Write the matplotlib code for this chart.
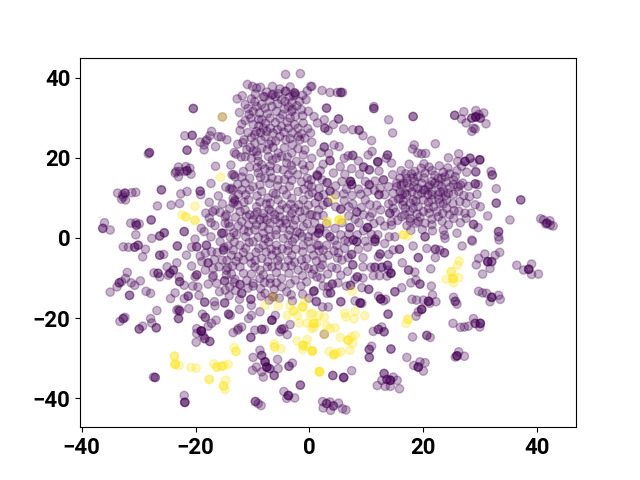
import numpy as np
import matplotlib
matplotlib.use("Agg")
import matplotlib.pyplot as plt

purple_nw = [(-4.2,40.8),(-1.6,41),(-10.9,38.3),(-10,37.8),(-9.3,37.4),(-8.6,37.6),(-6.5,37.8),(-3.4,37.7),(0.2,37.8),(-0.4,36.7),(-5.2,37.2),(-4.2,36.6,2),(-2.6,36.2,2),(-2.8,35.5),(-6.6,35.7),(-6,35.3),(-7.9,35.2),(-20.4,32.3,2),(-15.3,30.2),
(-33.7,11.2),(-32.8,10.8),(-32.4,11.2,2),(-33,9.7),(-32.3,9.5),(-31.2,11.3),(-30.5,11.4),(-32.7,10.2),(-26,12,2),(-26.7,8),(-24.3,8.2),(-22.8,8.6),(-22.6,11),(-21.5,11.6),(-19.2,11.7,2),(-19.1,10.8),(-17.3,13.6),(-16.5,17.9),
(-23.4,16.6),(-23,17.7),(-21.7,17.8),(-21,17.4),(-21.5,16.8,2),(-20.8,15.9),(-23,15.3),(-23.6,16.2),(-22.8,16.6),(-21.9,16.6),(-28.1,21.3,2),(-28.3,21),(-21.5,21.9,2),(-21.9,25.5),(-20.6,25.6,2),
(-19.2,23.9),(-18.2,24.2),(-18.5,23.2),(-18.5,22),(-17.5,25.5),(-17.2,26.6),(-16.5,22.8),(-16,25.3),(-15.5,25.2),(-14.5,24.5),(-18,24.5),(-13.2,21.3),(-12.9,20.9),(-13.8,18.2),(-13.6,15.8),(-13.1,15.3),
(-14.7,12.7),(-14,12.2),(-13.5,12),(-16,10.5),(-17.6,8.9),(-15.3,8.5),(-13.4,9.9),(-13.1,9.1),(-16.6,7),(-17,6.6),(-18.2,6.2),(-14.6,5.8),(-14.8,5.3),(-17.3,3.8),(-16.6,3.1),(-19,2.4),(-18.5,1.6),(-17.3,0.3),(-15.4,1.2,2),(-14.2,3.7),(-14.8,3.7),(-22,1.6,2),(-20.1,-0.3),
(-36,3.8),(-36.3,2.4,2),(-35,2),(-31.4,3.7),(-30.5,3.8),(-30.4,3.2,2),(-29.9,3.5),(-30.5,0.8),(-27.8,4.5,2),(-27.7,-0.1),(-26.3,0.5,2),(-25.5,1.3,2)]

purple_center = [(-12.7,34.7),(-11.3,33.3),(-10.2,34.7),(-12.3,31.3),(-9.9,31.6),(-8.4,33.3),(-10.6,30.8),(-11.3,29.3),(-8.8,31.2),(-7.8,32.4),(-6.4,35.8),(-4.9,34.5),(-3.7,32.8),(-2.5,35.8),(-0.6,34.5),(-1.4,32),(-3.4,29.9),(-2.5,30.3),(-5.8,31.6),(-6.9,29.9),(-8.1,27.4),(-9.9,28.3),(-12.2,26.8),(-10.8,26.3),(-9.3,26.6),(-11.5,24.5),(-11.7,23.8),(-9.6,23.7),(-7.8,25.3),(-6.4,26.2),(-4.9,27.8),(-3.7,27.4),(-5.2,25.3),(-4.2,24.5),(-2,27.4),(-1.1,28.7),(0.2,26.2),(0.8,30.3),(1.4,28.7),(-1.7,24.5),(-2.96,23.3),(-8.4,22.4),(-11,22),(-11.3,20.3),(-10.2,19.9),(-5.5,21.2),(-7.2,20.3),(-3.1,21.2),(-2.3,19.1),(-0.8,22),(0.4,19.9),(-4,18.7),(-6.9,18),(-9,19.1),(-10.5,17.7),(-8.4,18.3),(0,18),(-5.8,19.9),(-9.9,21.6),(-9.6,25.8),(-6.7,24.1),(-8.4,29.5),(-6.9,27.4),(-3.1,31.6),(-4.3,34.1),(-8.1,35.3),(-1.7,34.1),(-2,25.3),(-5.2,29.9),
(-13.3,15.8),(-13.7,12.4),(-11.3,13.7),(-10.5,14.9),(-9.9,12.8),(-7.8,14.9),(-9,16.2),(-6.9,16.6),(-5.5,14.5),(-3.7,15.8),(-2.1,15.8),(-0.4,14.9),(1.3,15.8),(-4.6,12),(-6.4,11.2),(-8.4,11.6),(-10.5,12),(-11.9,12),(-10.7,9.5),(-13.1,9.5),(-13.4,8.7),(-12.2,6.6),(-9.3,7.8),(-6.9,8.7),(-5.5,9.5),(-3.1,9.9),(-2,11.6),(-0.2,13.3),(-1.1,9.5),(1.6,10.3),(-4,7.4),(-1.7,6.6),(0.1,5.8),(-10.5,5.8),(-8.1,6.2),(-6.1,5.8),(-4.3,4.5),(-2.5,4.5),(-6.9,3.7),(-9.3,3.3),(-11.9,4.1),(-14,2.8),(-10.7,1.6),(-8.1,1.2),(-5.8,2),(-3.4,2),(-1.1,2.8),(1.8,2),(-15.1,1.2),(-12.8,0.8),(-6.9,0.3),(-4.6,-0.1),(-2.6,-0.1),(-0.2,0.3),(-12.2,-1.8),(-9.9,-0.9),(-8.1,-1.8),(-5.8,-1.8),(-3.7,-1.8),(-1.1,-1.8),(1.3,-1.8),(-14.3,-2),(-11.2,-2.6),(-7.5,4.5),(-5.2,3.7),(-8.7,4.5),(-3.1,6.2),(-6.7,6.6),(-9.9,4.5),(-11.3,7),(-1.7,1.2),
(-15.3,-5.5),(-13.7,-4.3),(-12.5,-4.7),(-10.5,-4.7),(-8.4,-5.1),(-6.6,-4.3),(-5.2,-4.7),(-3.1,-4.3),(-1.4,-5.5),(0.7,-4.3),(-14.6,-8),(-12.2,-7.2),(-10.2,-6.3),(-11.6,-8.8),(-8.7,-8),(-6.6,-7.2),(-4.3,-7.2),(-2,-8),(-0.2,-7.6),(1.3,-9.7),(-4.9,-10.1),(-6.9,-10.1),(-8.7,-10.1),(-4.9,-12.2),(-9.9,-11.3),(-6.9,-11.3),(-0.5,-10.9),(-2.5,-10.5),(-4,-13.4),(0.7,-13.4),(-7.8,-13.8),(1.2,-15.9)]

purple_fill = [(-11.8,35.5),(-9.5,35.9),(-7.5,36.4),(-5.5,36),(-3.5,35.2),(-1.2,35.6),(-9.6,34),(-7,34.3),(-5.6,33.5),(-3.1,33.8),(-2.2,33),(-4.4,32.2),(-3,32.1),(-6.6,32.8),(-9.3,32.8),(-10.8,32.3),(-7.4,31),(-4.7,30.8),(-1.2,30.5),(-0.2,31.6),(-8.9,29.6),(-7.7,28.6),(-6,28.8),(-3.9,28.9),(-2.6,28.3),(-10.3,29.9),(-11.9,28.4),(-8.9,27.9),(-7.5,26.6),(-8.6,26.3),(-5.6,27),(-4.5,26.4),(-3,26.2),(-1.4,26),(-0.3,27.3),(-10.2,25),(-8.5,24.4),(-7.1,23.4),(-5.9,24.2),(-3.4,24.8),(-0.8,24.9),(-12.6,23.4),(-10.4,22.6),(-9.3,21.6),(-7.4,22),(-6.4,22.6),(-4.4,22.5),(-3.9,20.2),(-2,22.3),(-1.1,20.7),(-12,20.2),(-9.1,20.5),(-6.5,19.4),(-4.9,20.4),(-3.2,18.1),(-1.2,18.3),(-7.8,17.2),(-5.7,17.3),(-4.6,17),(-0.9,17),(-11.6,16.6),(-9.2,17.6),(-3,16.9),
(-11.9,15.2),(-8.6,15.2),(-6.6,15),(-4.4,14.6),(-3.1,14.4),(-1.4,14),(0.3,14.5),(-12.6,13.4),(-8.7,13.2),(-7,13.6),(-5.6,13),(-3.5,12.9),(-1,12.2),(0.5,11.3),(-12.5,10.9),(-11.2,10.8),(-9.2,10.5),(-7.3,10),(-5.9,10.9),(-4,10.8),(-0.1,10.8),(-12.6,8.2),(-11.5,8.9),(-8.7,9),(-7.6,8.5),(-4.8,8.3),(-3.3,8.4),(-1.9,8.3),(-0.2,8.2),(1,8.7),(-14,7.3),(-9.2,6.5),(-7.1,7.1),(-5.2,7),(-2.6,7.4),(-0.8,6.9),(1.3,5.5),(-13,5.2),(-11.1,5.4),(-9.6,5.7),(-8,5),(-5.2,5.3),(-3.4,5.3),(-1.3,5),(-12.5,3),(-10.7,3.2),(-8.2,2.9),(-6,4.6),(-4.1,3.6),(-2.8,3.2),(-0.4,3.6),(0.9,3.9),(-13.3,1.3),(-11.5,2),(-9.6,2),(-7.2,2.2),(-4.7,2.5),(-2.2,1.5),(0.4,1.8),(-13.9,0.2),(-11.2,0.3),(-9,0.2),(-7.8,-0.2),(-5.9,0.8),(-3.7,0.7),(-1.3,0.4),(1,0.4),
(-13.2,-1),(-10.6,-1.1),(-8.9,-2.6),(-7.2,-1),(-6.7,-2.8),(-4.8,-2.7),(-3,-0.9),(-2.4,-2.8),(-0.2,-0.9),(0.3,-2.7),(-13.4,-3),(-11.6,-3.6),(-9.4,-3.6),(-7.6,-3.5),(-5.8,-3.3),(-3.8,-3.2),(-1.2,-3.4),(1.7,-3.2),(-14.5,-5.6),(-12.9,-5.8),(-11.6,-5.5),(-9.5,-5.6),(-7.3,-5.9),(-5.6,-5.6),(-3.7,-5.6),(-2.6,-6),(-0.5,-5.2),(1.2,-5.7),(-13.5,-7),(-9.6,-7.2),(-7.4,-7.2),(-5.4,-6.9),(-3.2,-6.9),(-0.9,-7),(-13.7,-9),(-10.2,-9),(-8.1,-9.2),(-5.8,-8.6),(-3.6,-8.8),(-1.2,-9.4),(0.5,-9),(-13.1,-10.3),(-11,-10.6),(-7.9,-11.1),(-5.8,-11.2),(-3.4,-11.4),(-1.5,-12),(-10.8,-12.5),(-8.6,-12.6),(-6.2,-12.8),(-3.2,-14.2),(-1.2,-14),(-5.3,-15),(-7.1,-15.5),(-3,-15.7),
(2,21.3),(3.4,21.1),(6.1,19.9),(8.6,19.2),(11,21.6),(2.2,14.5),(4.6,13),(8.8,15.9),(11.5,14.2),(12.2,16.7),(2.5,10.8),(4.6,10.8),(6,11),(9,10.9),(11.4,11.9),(13.2,10.8),(2.4,8.2),(4.6,7.8),(6.9,7.8),(9.1,7.6),(10.6,8.3),(12.5,7),(2.4,5.6),(6.9,5.5),(8.7,3.8),(11.3,3.6),(13.2,3),(3,3.5),(5.7,3.8),(3,1.1),(6.9,1),(8.4,0.8),(10.9,0.9),(4.4,-0.6),(6.2,-0.6),(9.8,-0.8),(13.2,-1.4),(15,0.3),(14.7,-3),(2.4,-3),(4.3,-3.2),(8.6,-2.8),(1.9,-7.4),(4.9,-5),(4.8,-7.6),(6.8,-4.9),(9.4,-7.2),(6.7,-8.3),(2,-10),(5,-11.2),(9.4,-10),(-0.1,-15),
(-17.6,5),(-15.7,6.4),(-15,-2.4),(-16.2,-3.6),(-16.7,-5.4),(-15.9,-7.2),(-14.4,-7.4),(-17,-9.8),(-14.6,-9.2),(-13.2,-11.1),(-13,-13.1),(-14.8,-13)]

purple_ne = [(0.4,37.8),(2.2,36.8),(3.6,36.3),(4.9,36.3),(5.5,36.3,2),(5.8,36.3),(3,32.4,2),(11.3,32.8),(11.3,32.3,2),(18.2,30.3,2),(13.9,29.5),(14.6,26.2),(2.6,29.5),(5.1,29.7,2),(4.2,28.3),(2.7,27.4,2),(3.3,26.8),(6,27.2),(7.6,27),(8.7,26.9,2),(9.4,25.5),(10.9,24.3),(0.4,23.9),(2.6,22.7,2),(4.3,23.2),(5.2,22.8),
(25.5,30.6,2),(27.1,31.5),(26.7,29.7),(27.5,28.7),(29.2,31.8),(30.6,31.2),(31,28.5),(28.5,29.9,2),(29.2,30.2,3),(30,29.9,2),(28.8,27.4),(28.5,26.6),(29.1,27.2),(29.7,30.8),
(22.1,23.5),(18.4,23.2),(18.1,22.2),(19,21.2),(19.7,21),(20.4,21.1),(10.3,20.7),(6.8,20.5),(7.6,20.6,2),(13.7,20.7,2),(13.5,19.9),(12,19,3),(14.4,18.7),(3.6,19.3,2),(2.4,18.4),(5.4,17.8),(7.4,17.3),(9.5,17.7,2),(10.5,17,2),(1.9,16.8),(4.2,16.2),(1.4,15.5,2),(6.2,15.9),(3.1,13.8,2),(5.7,14.1),(7.2,14.1,3),(7.4,13.3,2),(9.8,14.1),(10.5,13.3,2),(8.6,12.2),(6.5,12.2),(3.6,11.7,2),(1.7,12.4),(0.4,12.8),(10.2,11.6),(7.5,10.6),(1.6,10.3),(12.2,10.8,2),(13,14.5,2),(14.6,15.8),
(6.1,9.3),(7.6,8.5),(9.8,9.5),(3.2,8.9,2),(5.5,7.2,2),(8.3,6.5,2),(9.5,5.8),(11,6.2),(10.6,5.3),(11.8,8.2),(13.9,8.5),(14.1,6.2,2),(12.4,4.3),(8,4.7),(7.1,2.6,2),(4.5,2.4),(1.8,2.4,2),(0.4,5.8),(1.6,7),(10.2,2.6,3),(9.5,1.8),(12,0.8),(5.5,0.8),(3.6,0.3,2),(1.6,1.2,2),(7.7,-0.5,2),(11.5,-0.3,2),(14,0.3),(14.4,3.2),
(17.5,18.4),(20.1,18.5),(24.4,20),(26.2,21),(26,19.1),(27.3,19.1,3),(28.2,19.9,2),(29.9,19.5,3),(28.8,18.7),(22.8,18),(24.3,17.5),(21.5,16.8),(25.9,16.8),(27.6,16.4),(29.2,16.5,2),(31.9,16.6),(32.1,15.7,2),(16.1,16.8),(18.5,16.6),(20.3,16.2),(15.9,14.9),(17.1,14.9),(19,15.3),(23.8,15.3),(25.6,15.3),(22.6,14.9),(21.5,14.1),(15.3,13.7),(16.5,13.7),(18.3,12.8),(19.7,13.7),(20.3,12),(23.2,12.8),(25.3,13.3),(26.9,13.7),(29.1,13.5,2),(29.6,13.3),(32.8,12.3),(13.9,12.8),(12.4,12.4),(17.1,10.8),(15.9,11.6),(19,10.8),(21.5,11.6),(22.6,10.8),(24.4,11.2),(26.2,11.6),(29.4,10.9),(15.6,9.7),(17.7,8.7),(20,9.5),(21.5,9.5),(24.1,9.5),(26.4,9.1),(28.1,10.3),(29.1,8.3),(30,7.8),(32.8,8.7,2),(37.1,9.5,2),(14.7,7.4),(16.8,7.4),(19.1,7.8),(22.4,6.6),(24.1,7.4),(25.4,6.8),(27.3,6.2),(16.2,5.3),(17.7,4.9),(20,6.6),(22.6,5.3),(25.3,4.9),(31.3,5.5),(35.2,4.5),(18.7,3.7),(20.3,3.7),(21.5,3.3),(24.4,3.3),(26.5,3.8),(28.8,3.4,2),(29.6,2.6),(17.1,3.1),(23.5,2),(25.9,1.2),(33.2,1.6,2),(33.2,0.3),(20.3,0.3,2),(23.7,0.7),(23.8,-0.1),(28.5,-0.5),
(40.6,4.8),(41.1,4.5),(41.7,3.7,2),(42.2,4.3),(42.3,3.2),(41.5,3.5),(42.8,3)]

purple_cluster = [(18.2,9.5),(16.8,11.2),(20.9,12.8),(22,13.7),(21.5,10.8),(19.7,11.2),(18.5,14.1),(17.1,13.7),(23.2,14.9),(15.3,12.8),(22.9,8.7),(21.8,7.8),(20,12),(14.7,11.2),(16.5,9.1),(18.2,7.4),(23.5,11.6),(25.3,14.5),(26.5,13.2),(14.6,9.1),(15.9,9.9),(20.9,7.4),(17.7,4.1),(19.1,4.1),(14.4,4.1),
(16.9,16),(19.6,17.4),(21,17.7),(23.5,16.4),(26.7,17.9),(17.9,16),(24.6,16),(22,15.6),(20.1,15),(18.2,15),(16.1,13.2),(17.5,12.6),(19,12.4),(21.1,13.2),(22.6,13.3),(24,13.9),(24.7,12.6),(26.1,12.8),(27.9,12.9),(16.3,10.9),(18,11.5),(20.8,10.8),(23,11.4),(23.9,10.6),(25.3,10.9),(27.1,10.6),(16.4,8.2),(18.7,9.2),(20.9,8.9),(22.7,9.7),(23.5,8.5),(25.2,8.6),(27.5,8.7),(15.1,6.4),(17.6,6.5),(18.9,6),(21,6.2),(23.4,6.2),(24.6,5.8),(26.2,6.7),(28.4,6.2),(15.5,4.4),(16.7,5.8),(19.4,5.2),(21.5,4.7),(23.3,4.2),(27.5,4.9),(19.8,2.1),(21.6,1.8),(17.8,1.9)]

purple_sw = [(-32.7,-2.2),(-31.8,-2.3),(-30.7,-2.3,2),(-30.1,-1.8,2),(-28.8,-2.8),(-29.3,-4.7),(-26.3,-4.3,2),(-25.6,-4.1),(-23.2,-2,2),(-21.6,-4.3),(-20.7,-7),
(-32,-8.6),(-32.3,-10.1),(-33.4,-11.2,2),(-33.8,-12.2),(-33,-10.9),(-31.3,-11.2),(-30.7,-11.8),(-29.7,-10.7),(-35,-13.5),(-31.6,-14.3,2),(-28.7,-13.3),(-27.9,-13.8),(-26.8,-18.1),(-27.9,-20.1),(-27.7,-21.2),(-32.7,-20.1,2),(-32.4,-19.8),(-33.3,-20.8),(-29.9,-22.7,2),(-29.3,-22),(-26.9,-22.4,2),
(-26.6,-8.8,2),(-27.3,-8.7),(-26.3,-9.7),(-25,-7.2),(-24.8,-9.3),(-23.9,-8,2),(-24.5,-8.8,2),(-23.3,-6.2),(-22.9,-9.7),(-22.8,-10.9,2),(-22,-11.8),(-19.8,-9.2,2),(-20.5,-12),(-19.6,-12.2),(-19.4,-14.3),(-23.6,-13.7),(-24.4,-15.1),(-22,-15.1),(-21.3,-14.5,2),(-18.4,-16,2),(-23,-17.8),(-23.3,-18),(-21.2,-17.6),(-23,-20.1,2),(-22.8,-18.2,2),
(-18.8,-19),(-18.3,-19.8,2),(-16.4,-20.5),(-17.2,-21.3),(-17.8,-22),(-19.8,-22.6),(-19,-23.2,4),(-19.8,-23.8),(-18.4,-25.1,2),(-17.5,-25.8,2),(-19.9,-26),(-18.7,-24.3),
(-14.2,-19,2),(-13.9,-19.3),(-16.7,-15.9),(-16.6,-16.9),(-14.9,-16.2,2),(-12.3,-17.8),(-16.9,-9.4),(-17.8,-11.5),(-16.3,-11.3),(-14.9,-10.7,2),(-15.8,-13.4),(-14.1,-14.4),(-14,-12.2),(-12.2,-11.6,2),(-11.9,-13.8,2),(-12.3,-15.3),(-10.3,-15.3,2),(-10.2,-16.8),(-9.9,-12),(-8.5,-14.5),(-8.7,-18.4),(-10.2,-19.3),(-10.7,-20.1),(-11.9,-22.2),(-12.5,-22.6),(-13.4,-23.6),(-12.6,-23),(-10.3,-24.8,2),(-9.6,-23),(-8.4,-22.8,2),(-7.9,-22.8),(-6.6,-20.5,3),(-6,-19.3),(-6.4,-14.7,2),(-4.9,-22.8,2),(-4.5,-22.6),(-3.4,-21.6),(-3.9,-24.1),(-5.2,-23.4),
(-9.9,-29.8),(-8.7,-28),(-8.4,-29.3,2),(-7.8,-30.9,3),(-7.5,-32.2,3),(-5.6,-30.3),(-7,-32.6,2),(-10,-33),(-9.3,-32.2),(-8.4,-33.4),(-8.1,-34.7),(-6.2,-34.3,2),(-5.5,-32.6),(-3.6,-32,2),(-3,-31.2),(-1.6,-36.7,2),(-4.5,-38.3),(-3.7,-39.3,3),(-4,-40),(-2.6,-39.9),(-9.5,-40.8,2),(-9,-41.3),(-8.5,-41.8),(-22,-39.3),(-21.9,-41,3),(-27.4,-34.7),(-27.1,-34.8,2),
(-15.1,-3,2),(-19.8,-2.2,2),(-20.7,-2.3),(-18.3,-3.8),(-17.2,-3.4),(-19.2,-4.5),(-15.7,-0.9),(-18.1,-1.8,2),(-18.9,-5.9),(-17.8,-6.2,2),(-16.9,-7.6),(-18.3,-8),(-20.1,-9.7)]

purple_se = [(18.2,-2),(15.8,-2.8,2),(13.9,-4.1),(12.4,-4,2),(12.1,-4.7),(9.4,-4.9),(7.4,-4.1,2),(10.2,-2.3),(11.5,-0.9,2),(8.3,-0.9,2),(6.8,-0.9),(20.6,-2.6),(22.1,-2.8,2),(22.9,-3),(23.7,-3.7,2),(26.8,-2),(28.6,-0.8),(33.3,-0.5),(19.1,-4.9,2),(16.3,-6.2),(22.1,-4.9),(21.3,-7.7),(18.5,-8.5),(17.4,-8,2),(13.7,-6.8,2),(12.7,-7.3,2),(11.5,-7.3,2),(10.8,-7.3),(14.3,-8.8,3),(13.9,-8),(11.2,-9.4),(12.3,-9.4),(13.6,-9.5),(7.6,-6.7,2),(5.5,-9.3),(3.2,-9),(8.4,-9.7,2),(8,-10.3),(6.5,-12),(7.2,-11.8,2),(9.2,-12.4),(10.4,-12.8,2),(4,-11.5,2),(3.3,-12.2),(2.4,-12),(3.7,-13.7,2),(3.1,-13.8),(0.8,-13.2,2),(1.2,-15.8),(5.5,-15.9,2),(2.3,-17.2),(3.3,-17.2),(8.9,-16.2,3),(9.2,-16.3),(8,-15.7),(12.1,-14.5),(12.5,-15.2,3),(13.4,-15.3),(13,-15.7),(15,-13.4,2),(16.2,-12.4),(17.8,-11.2),(18.7,-10.5),(19.4,-11.5,2),(21.4,-12),(18,-15.3),(18.8,-15.5),(20,-15.5),(20.9,-15.8,3),(21.6,-14.2),(22.2,-15.9),(21.1,-16.3),(19.7,-17.8,3),(19.1,-18.4),(18.7,-19.5),(13.8,-19,2),(25.3,-14.8),(25.6,-15.8,2),(25.9,-16.5),(29.7,-13.3),(30.4,-13.7),(31.1,-13.8),(32,-14.8,3),(33.2,-14.3),(33.5,-15.3),(31.7,-15.9),
(29.3,-6.7),(29.7,-5.1),(30.4,-9),(30.8,-4),(31.3,-5.9,3),(32,-5.9,2),(31.7,-7.6),(32.6,-4.3),(33.4,-3.6),(36.4,-6.8),(37.6,-8),(38.5,-7.8,3),(39,-6.5),(39,-9.1),(40.2,-9),
(25.2,-21.3),(26.5,-22.3),(27.2,-22.2),(27.9,-22),(28.8,-20.1),(29.1,-21.3,2),(30,-21.3,3),(29.9,-22.2),(26.2,-28.4),(25.6,-29.7),(25.9,-29.4,3),(27.2,-29.5),
(20.6,-24.3,2),(21.2,-24.8),(18.1,-24.7),(17.1,-29.8),(18.3,-31.8),(19.1,-32.2,3),(20.3,-31.1),(19.4,-30.9),(20,-33.2),
(13.1,-23.4,2),(12.7,-22.2),(12.1,-22.8,2),(11.2,-23.3),(14.3,-27.7,2),(10.9,-27),(10.5,-27.8,2),(10.5,-29.8,2),(7.4,-33.1),(4.1,-34.3,2),(6,-34.8,3),
(13.1,-33.8,2),(12.7,-35.5),(11.9,-36.8),(14.2,-35.5,3),(14.7,-34.7),(13.6,-35.3,2),(13.3,-37),(14.2,-37),(15.8,-37.6),(15.4,-35.5),
(2.3,-40.8),(3,-41.3,2),(3.6,-40.9),(5.1,-41.2),(4.2,-41.9,2),(2.4,-42.4),(3.7,-43),(5.8,-42.6),(6.4,-42.9),
(1.6,-1.8),(3,-1.8),(4.8,-1.8),(6.2,-2.6),(3.3,-4.3),(5.1,-3.7),(2.3,-5.1),(5.7,-5.5),(3.9,-7.3),(2.3,-6.7),(0.8,-7.8),(2.6,-24)]

yellow_pts = [(-15.3,30.2),(-15.6,15.2),(-20.1,7.9),(-22.4,5.8),(-21.7,5.3,2),(-20.1,4.4,2),(4.2,9.8),(3.1,4.1,2),(5.2,4.5,3),(5.8,4.5),(16.5,0.8,2),(17.3,0.5),
(-7.8,-16.8),(-5.5,-16.9),(-3.4,-16.9),(-0.8,-15.7),(-1.2,-17.2,3),(-2.8,-18.2,2),(-3.9,-19.3),(-2.1,-19.3),(0.1,-19),(1.6,-19.3),(-1.8,-21.2),(-0.4,-21.2),(0.6,-21.3),(1.3,-21.2),(0.8,-22.3),(-6.2,-26.4),(-6.1,-27.2,2),(-5,-27.6),(-2.2,-25.7),(-0.4,-25.3),(-1.1,-26.8,3),(-0.5,-27),(-1.2,-27.8),(0.5,-28.2,2),(-13.2,-27.3),(-12.9,-28.3,2),(-23.7,-29.5,2),(-23.6,-31.5,3),(-22.9,-31.8),(-20.8,-32.3),(-19.9,-32.5),(-16.8,-31.4),(-16.3,-32.2,2),(-15.4,-32,2),(-15,-31.8),(-14.3,-31.5),(-17.6,-35.3,2),(-14.7,-35.5),(-15.1,-36.9,2),(-14.8,-37.8),(1.7,-33.3,2),(-6.4,-14.8),
(7.5,-13.3),(26.3,-5.7),(26,-6.8),(24.9,-8.4,2),(24,-10.3),(25.2,-10.1,3),(26.2,-9.9),(25.3,-11.2),(17.3,-20.3,2),(17,-21.3),(6.2,-18.8),(6.4,-19.7),(8,-18.3),(7.8,-20.2),(9.7,-19.4),(2.6,-19.7),(0.5,-18.8),(0.8,-21.3,2),(0.4,-22.6),(3,-21.9),(3.6,-22.6),(4.5,-22.4),(2.6,-24),(5.4,-24.8),(6.8,-25.5,3),(7.4,-24.7),(8,-24.3),(7.6,-26.3),(7.1,-28),(3.5,-28.3),(4.3,-29.1,3),(5.5,-28.4),(4.8,-28.7),(0.5,-28.2,2),(1.8,-33.4,2)]

tick_x = [-40, -20, 0, 20, 40]
tick_y = [-40, -20, 0, 20, 40]


def expand(points):
    xs, ys = [], []
    for p in points:
        n = p[2] if len(p) == 3 else 1
        xs += [p[0]] * n
        ys += [p[1]] * n
    return xs, ys


px, py = expand(purple_nw + purple_center + purple_fill + purple_ne + purple_cluster + purple_sw + purple_se)
yx, yy = expand(yellow_pts)
x = np.array(px + yx)
y = np.array(py + yy)
labels = np.array([0] * len(px) + [1] * len(yx))

fig, ax = plt.subplots(figsize=(6.4, 4.8), dpi=100)
ax.scatter(x, y, c=labels, cmap="viridis", alpha=0.3)
ax.set_xlim(-40.3, 46.8)
ax.set_ylim(-47.2, 45)
ax.set_xticks(tick_x)
ax.set_yticks(tick_y)
for t in ax.get_xticklabels() + ax.get_yticklabels():
    t.set_fontfamily("Roboto")
    t.set_fontweight("bold")
    t.set_fontsize(16)
fig.savefig("out.png", dpi=100)
